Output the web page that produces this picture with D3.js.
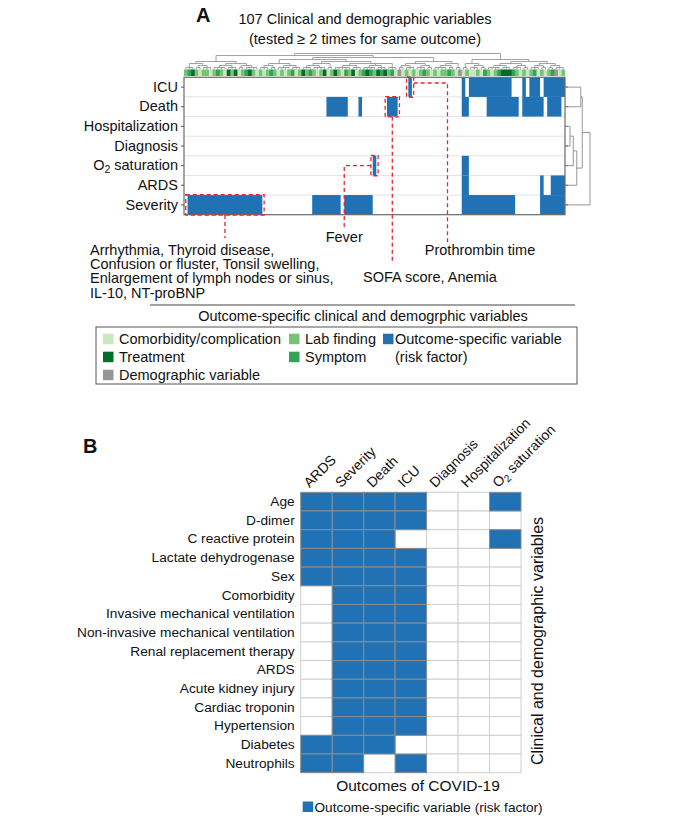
<!DOCTYPE html>
<html>
<head>
<meta charset="utf-8">
<script src="https://cdn.jsdelivr.net/npm/d3@7"></script>
<style>
  body { margin: 0; background: #fff; }
  svg text { font-family: "Liberation Sans", Arial, sans-serif; fill: #111; }
</style>
</head>
<body>
<svg id="chart" width="681" height="817"></svg>
<script>
// ---------- panel A data ----------
const outcomesA = ["ICU", "Death", "Hospitalization", "Diagnosis", "O2 saturation", "ARDS", "Severity"];
const nVars = 107;

// variable type of each column, in dendrogram order
// C comorbidity/complication, L lab finding, S symptom, T treatment, D demographic
const varTypes =
  "LSTLCLLCLS" + "LCTLTCLSTL" + "CLCLSLCLCL" + "SCLTLSLCLT" + "CLTLCSLTCL" +
  "STSLTSTLSC" + "DCLCLCLSLC" + "LCLLSLCDCL" + "CCLCSLCLST" + "TTSLCLCLSC" + "LCLSDCL";

// columns (first, last) where the variable is a risk factor for the outcome
const riskICU = [[63, 63], [78, 78], [80, 91], [95, 95], [97, 99], [101, 106]];
const riskDeath = [[40, 45], [49, 49], [57, 59], [78, 79], [85, 93], [95, 100], [102, 105]];
const riskHospitalization = [];
const riskDiagnosis = [];
const riskO2 = [[53, 53], [78, 79]];
const riskARDS = [[78, 79], [100, 100], [103, 106]];
const riskSeverity = [[1, 21], [36, 43], [45, 52], [78, 92], [100, 106]];

// column dendrogram (numbers = small flat clusters of that many variables)
const colTreeLL = [[3, [2, 3]], [[4, 3], [2, 4]]];
const colTreeLRa = [[[3, 2], [4, 3]], [[[3, 4], 2], [[5, 3], [4, 3], 3]]];
const colTreeLRb = [[[2, 3], [3, 2]], [[4, 2], 2]];
const colTreeR = [[2, [3, 2]], [[[4, 3], [3, 2]], [[3, 2], [2, 3]]]];

// row dendrogram, h = relative merge height
const rowTree = { h: 1.0, c: [
  { h: 0.69, c: [
    { h: 0.63, c: ["ICU", "Death"] },
    { h: 0.47, c: [
      { h: 0.33, c: [{ h: 0.2, c: ["Hospitalization", "Diagnosis"] }, "O2 saturation"] },
      "ARDS"] }
  ] },
  "Severity"] };

const calloutSeverity = ["Arrhythmia, Thyroid disease,", "Confusion or fluster, Tonsil swelling,",
  "Enlargement of lymph nodes or sinus,", "IL-10, NT-proBNP"];

// ---------- panel B data ----------
const outcomesB = ["ARDS", "Severity", "Death", "ICU", "Diagnosis", "Hospitalization", "O2 saturation"];
const varsB = ["Age", "D-dimer", "C reactive protein", "Lactate dehydrogenase", "Sex", "Comorbidity",
  "Invasive mechanical ventilation", "Non-invasive mechanical ventilation", "Renal replacement therapy",
  "ARDS", "Acute kidney injury", "Cardiac troponin", "Hypertension", "Diabetes", "Neutrophils"];
const riskB = [
  [1, 1, 1, 1, 0, 0, 1],
  [1, 1, 1, 1, 0, 0, 0],
  [1, 1, 1, 0, 0, 0, 1],
  [1, 1, 1, 1, 0, 0, 0],
  [1, 1, 1, 1, 0, 0, 0],
  [0, 1, 1, 1, 0, 0, 0],
  [0, 1, 1, 1, 0, 0, 0],
  [0, 1, 1, 1, 0, 0, 0],
  [0, 1, 1, 1, 0, 0, 0],
  [0, 1, 1, 1, 0, 0, 0],
  [0, 1, 1, 1, 0, 0, 0],
  [0, 1, 1, 1, 0, 0, 0],
  [0, 1, 1, 1, 0, 0, 0],
  [1, 1, 1, 0, 0, 0, 0],
  [1, 1, 0, 1, 0, 0, 0]
];

// ---------- styling ----------
const blue = "#2171b5";
const red = "#e8262b";
const typeColor = { C: "#c7e9c0", L: "#74c476", S: "#31a354", T: "#006d2c", D: "#969696" };

const svg = d3.select("#chart");

// label with subscript 2 for O2
function o2Label(sel) {
  sel.each(function () {
    const t = d3.select(this);
    if (t.text() !== "O2 saturation") return;
    t.text(null);
    t.append("tspan").text("O");
    t.append("tspan").attr("dy", 3).attr("font-size", "0.72em").text("2");
    t.append("tspan").attr("dy", -3).text(" saturation");
  });
}

// ================= PANEL A =================
svg.append("text").attr("x", 196).attr("y", 22).attr("font-size", 20).attr("font-weight", "bold").text("A");
svg.append("text").attr("x", 365).attr("y", 24).attr("font-size", 14.5).attr("text-anchor", "middle")
  .text("107 Clinical and demographic variables");
svg.append("text").attr("x", 365).attr("y", 44).attr("font-size", 14.5).attr("text-anchor", "middle")
  .text("(tested \u2265 2 times for same outcome)");

const xA = d3.scaleBand().domain(d3.range(nVars)).range([184, 565]);
const yA = d3.scaleBand().domain(outcomesA).range([77.3, 214.7]);
const bwA = xA.bandwidth();

// row separators
svg.append("g").selectAll("line").data(outcomesA.slice(1)).join("line")
  .attr("x1", 184).attr("x2", 565)
  .attr("y1", d => yA(d)).attr("y2", d => yA(d))
  .attr("stroke", "#e2e2e2");

// risk blocks (runs of adjacent risk-factor columns)
const riskRows = [riskICU, riskDeath, riskHospitalization, riskDiagnosis, riskO2, riskARDS, riskSeverity];
const blocksA = [];
riskRows.forEach((ranges, r) => {
  ranges.forEach(([c0, c1]) => blocksA.push({ row: outcomesA[r], c0, c1 }));
});
svg.append("g").selectAll("rect").data(blocksA).join("rect")
  .attr("x", d => xA(d.c0)).attr("width", d => xA(d.c1) + bwA - xA(d.c0))
  .attr("y", d => yA(d.row)).attr("height", yA.bandwidth())
  .attr("fill", blue);

// frame
svg.append("rect").attr("x", 184).attr("y", 77.3).attr("width", 381).attr("height", 137.4)
  .attr("fill", "none").attr("stroke", "#6a6a6a").attr("stroke-width", 1.2);

// axes
const axA = svg.append("g").attr("transform", "translate(184,0)")
  .call(d3.axisLeft(yA).tickSize(3).tickPadding(3));
axA.select(".domain").remove();
axA.selectAll(".tick line").attr("stroke", "#555");
axA.selectAll("text").attr("font-size", 14.5).attr("font-family", null).call(o2Label);
const axAr = svg.append("g").attr("transform", "translate(565,0)")
  .call(d3.axisRight(yA).tickSize(3).tickFormat(""));
axAr.select(".domain").remove();
axAr.selectAll(".tick line").attr("stroke", "#555");

// variable type strip
svg.append("g").selectAll("rect").data(d3.range(nVars)).join("rect")
  .attr("x", d => xA(d)).attr("width", d => d === nVars - 1 ? bwA : bwA + 0.7)
  .attr("y", 69.5).attr("height", 6.5)
  .attr("fill", d => typeColor[varTypes[d]]);

// column dendrogram
const colRoot = d3.hierarchy([[colTreeLL, [colTreeLRa, colTreeLRb]], colTreeR],
  d => Array.isArray(d) ? d : (d > 1 ? d3.range(d).map(() => 1) : null));
colRoot.leaves().forEach((l, i) => { l.x = xA(i) + bwA / 2; });
colRoot.eachAfter(n => {
  if (n.children) n.x = (n.children[0].x + n.children[n.children.length - 1].x) / 2;
});
const yDen = d3.scaleLinear().domain([0, colRoot.height]).range([69.5, 53.5]);
let denPath = "";
colRoot.each(n => {
  if (!n.children) return;
  const y = yDen(n.height);
  const xs = n.children.map(c => c.x);
  denPath += `M${d3.min(xs)},${y}H${d3.max(xs)}`;
  n.children.forEach(c => { denPath += `M${c.x},${y}V${yDen(c.height)}`; });
});
svg.append("path").attr("d", denPath).attr("fill", "none").attr("stroke", "#8a8a8a").attr("stroke-width", 0.8);

// row dendrogram
const rowRoot = d3.hierarchy(rowTree, d => d.c ? d.c : null);
const xRowDen = d3.scaleLinear().domain([0, 1]).range([565, 590]);
rowRoot.eachAfter(n => {
  if (n.children) {
    n.y = (n.children[0].y + n.children[n.children.length - 1].y) / 2;
    n.hx = xRowDen(n.data.h);
  } else {
    n.y = yA(n.data) + yA.bandwidth() / 2;
    n.hx = xRowDen(0);
  }
});
let rowPath = "";
rowRoot.each(n => {
  if (!n.children) return;
  const ys = n.children.map(c => c.y);
  rowPath += `M${n.hx},${d3.min(ys)}V${d3.max(ys)}`;
  n.children.forEach(c => { rowPath += `M${n.hx},${c.y}H${c.hx}`; });
});
svg.append("path").attr("d", rowPath).attr("fill", "none").attr("stroke", "#8a8a8a").attr("stroke-width", 0.9);

// callout boxes and leaders
const pad = 1.8;
function boxOf(row, c0, c1) {
  return { x0: xA(c0) - pad, x1: xA(c1) + bwA + pad, y0: yA(row) - 0.3, y1: yA(row) + yA.bandwidth() + 0.3 };
}
const bSev = boxOf("Severity", 1, 21);
const bO2 = boxOf("O2 saturation", 53, 53);
const bDeath = boxOf("Death", 57, 59);
const bICU = boxOf("ICU", 63, 63);
const gCall = svg.append("g").attr("fill", "none").attr("stroke", red)
  .attr("stroke-width", 1.3).attr("stroke-dasharray", "4,3");
[bSev, bO2, bDeath, bICU].forEach(b => {
  gCall.append("rect").attr("x", b.x0).attr("y", b.y0).attr("width", b.x1 - b.x0).attr("height", b.y1 - b.y0);
});
const leaders = [
  `M${(bSev.x0 + bSev.x1) / 2},${bSev.y1}V238`,
  `M${bO2.x0},${yA("O2 saturation") + yA.bandwidth() / 2}H${xA(45)}V230`,
  `M${(bDeath.x0 + bDeath.x1) / 2},${bDeath.y1}V263`,
  `M${bICU.x1},${bICU.y0 + 6}H${xA(74)}V242`
];
leaders.forEach(p => gCall.append("path").attr("d", p));

calloutSeverity.forEach((t, i) => {
  svg.append("text").attr("x", 90).attr("y", 254.5 + i * 14.4).attr("font-size", 14.5).text(t);
});
svg.append("text").attr("x", xA(45)).attr("y", 242).attr("font-size", 14.5).attr("text-anchor", "middle").text("Fever");
svg.append("text").attr("x", 480).attr("y", 254.5).attr("font-size", 14.5).attr("text-anchor", "middle").text("Prothrombin time");
svg.append("text").attr("x", 430).attr("y", 282).attr("font-size", 14.5).attr("text-anchor", "middle").text("SOFA score, Anemia");

svg.append("line").attr("x1", 150).attr("x2", 575).attr("y1", 305).attr("y2", 305).attr("stroke", "#444");
svg.append("text").attr("x", 363).attr("y", 321).attr("font-size", 14.5).attr("text-anchor", "middle")
  .text("Outcome-specific clinical and demogrphic variables");

// legend A
svg.append("rect").attr("x", 96).attr("y", 327).attr("width", 481).attr("height", 57)
  .attr("fill", "none").attr("stroke", "#555");
const legendA = [
  { label: "Comorbidity/complication", color: typeColor.C, x: 103, y: 339 },
  { label: "Treatment", color: typeColor.T, x: 103, y: 357 },
  { label: "Demographic variable", color: typeColor.D, x: 103, y: 375 },
  { label: "Lab finding", color: typeColor.L, x: 289, y: 339 },
  { label: "Symptom", color: typeColor.S, x: 289, y: 357 },
  { label: "Outcome-specific variable", color: blue, x: 383, y: 339 }
];
legendA.forEach(d => {
  svg.append("rect").attr("x", d.x).attr("y", d.y - 5.3).attr("width", 10.5).attr("height", 10.5).attr("fill", d.color);
  svg.append("text").attr("x", d.x + (d.color === blue ? 12 : 16)).attr("y", d.y + 5).attr("font-size", 14.5).text(d.label);
});
svg.append("text").attr("x", 395).attr("y", 362).attr("font-size", 14.5).text("(risk factor)");

// ================= PANEL B =================
svg.append("text").attr("x", 83).attr("y", 453).attr("font-size", 20).attr("font-weight", "bold").text("B");

const xB = d3.scaleBand().domain(outcomesB).range([300.7, 521]);
const yB = d3.scaleBand().domain(varsB).range([492.3, 772.7]);
const cellsB = [];
varsB.forEach((v, i) => outcomesB.forEach((o, j) => cellsB.push({ v, o, val: riskB[i][j] })));
const sortedB = cellsB.slice().sort((a, b) => a.val - b.val);
svg.append("g").selectAll("rect").data(sortedB).join("rect")
  .attr("x", d => xB(d.o)).attr("y", d => yB(d.v))
  .attr("width", xB.bandwidth()).attr("height", yB.bandwidth())
  .attr("fill", d => d.val ? blue : "#fff")
  .attr("stroke", d => d.val ? "#8c8c8c" : "#cfcfcf").attr("stroke-width", 1);

const axBl = svg.append("g").attr("transform", "translate(300.7,0)")
  .call(d3.axisLeft(yB).tickSize(0).tickPadding(6));
axBl.select(".domain").remove();
axBl.selectAll("text").attr("font-size", 13.7).attr("font-family", null);

const axBt = svg.append("g").attr("transform", "translate(0,492.3)")
  .call(d3.axisTop(xB).tickSize(0));
axBt.select(".domain").remove();
axBt.selectAll("text").attr("font-size", 14).attr("font-family", null)
  .attr("x", 0).attr("y", 0).attr("dy", null)
  .attr("text-anchor", "start")
  .attr("transform", "translate(-7,-4) rotate(-45)")
  .call(o2Label);

svg.append("text").attr("x", 418).attr("y", 790.5).attr("font-size", 15.5).attr("text-anchor", "middle")
  .text("Outcomes of COVID-19");
svg.append("text").attr("transform", "translate(542.5,641) rotate(-90)").attr("font-size", 16)
  .attr("text-anchor", "middle").text("Clinical and demographic variables");

svg.append("rect").attr("x", 302.7).attr("y", 801.5).attr("width", 10.5).attr("height", 10.5).attr("fill", blue);
svg.append("text").attr("x", 314.5).attr("y", 811.5).attr("font-size", 13.6)
  .text("Outcome-specific variable (risk factor)");
</script>
</body>
</html>
